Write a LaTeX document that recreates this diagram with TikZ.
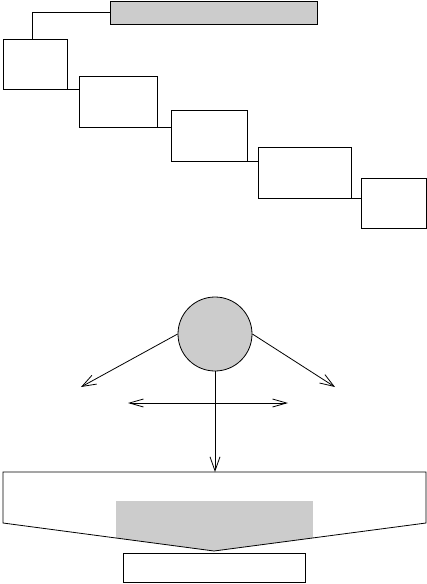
\documentclass[tikz,border=0pt]{standalone}
\usetikzlibrary{arrows.meta}
\begin{document}
\begin{tikzpicture}[x=1pt,y=-1pt,line width=0.8pt,
  box/.style={draw,rectangle,inner sep=0pt,outer sep=0pt,anchor=north west},
  shade/.style={fill=gray!40},
  arr/.style={-{Straight Barb[length=14pt,width=10pt]}}]
\useasboundingbox (0,0) rectangle (427,584);
% staircase boxes
\node[box,shade,minimum width=207pt,minimum height=23pt] (bar) at (110,1) {};
\node[box,minimum width=64pt,minimum height=50pt] (b1) at (3,39) {};
\node[box,minimum width=78pt,minimum height=51pt] (b2) at (79,76) {};
\node[box,minimum width=76pt,minimum height=51pt] (b3) at (171,110) {};
\node[box,minimum width=93pt,minimum height=51pt] (b4) at (258,147) {};
\node[box,minimum width=65pt,minimum height=50pt] (b5) at (361,178) {};
\draw (bar.west) -| ([xshift=29pt]b1.north west);
\draw (b1.south east) -- (b1.south east -| b2.west);
\draw (b2.south east) -- (b2.south east -| b3.west);
\draw (b3.south east) -- (b3.south east -| b4.west);
\draw (b4.south east) -- (b4.south east -| b5.west);
% circle and arrows
\node[draw,circle,shade,minimum size=74pt,inner sep=0pt] (c) at (215,334) {};
\coordinate (la) at (81,387);
\coordinate (ra) at (335,387);
\coordinate (hl) at (128,403);
\coordinate (hr) at (288,403);
\coordinate (top) at (215,472);
\draw[arr] (c.west) -- (la);
\draw[arr] (c.east) -- (ra);
\draw[arr] (c.south) -- (top);
\draw[{Straight Barb[length=14pt,width=8pt]}-{Straight Barb[length=14pt,width=8pt]}] (hl) -- (hr);
% funnel
\begin{scope}
\clip (3,472) -- (426,472) -- (426,523) -- (214,551) -- (3,523) -- cycle;
\fill[gray!40] (116,501) rectangle (313,560);
\end{scope}
\draw (3,472) -- (426,472) -- (426,523) -- (214,551) -- (3,523) -- cycle;
\node[box,minimum width=182pt,minimum height=29pt] (out) at (123,553) {};
\end{tikzpicture}
\end{document}
